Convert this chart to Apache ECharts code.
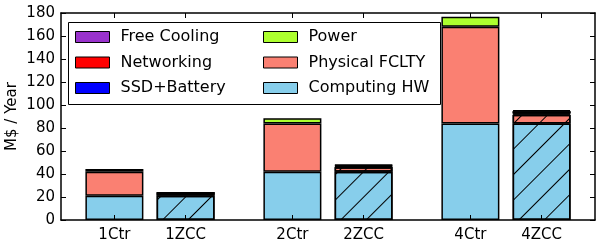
<!DOCTYPE html>
<html><head><meta charset="utf-8">
<script src="https://cdn.jsdelivr.net/npm/echarts@6/dist/echarts.min.js"></script>
<style>html,body{margin:0;padding:0;background:#fff}#c{width:600px;height:250px}</style>
</head><body><div id="c"></div>
<script>
var categories = ['1Ctr','1ZCC','2Ctr','2ZCC','4Ctr','4ZCC'];
// bar slots on a half-unit grid (empty slots between groups)
var slots = [1, 3, 6, 8, 11, 13];
var slotCount = 15;
var hatched = [false, true, false, true, false, true];
var computingHW = [21, 21, 42, 42, 84, 84];
var physicalFclty = [21, 1.9, 42, 3.8, 84, 7.6];
var power = [2.4, 0, 4.4, 0, 8.8, 0];
var ssdBattery = [0, 0.25, 0, 0.5, 0, 1];
var networking = [0, 0.5, 0, 1, 0, 2];
var freeCooling = [0, 0.25, 0, 0.5, 0, 1];

var FONT = 'DejaVu Sans';
var decal = {symbol:'rect', symbolSize:1, color:'#000', dashArrayX:[1,0], dashArrayY:[1,17], rotation:-Math.PI/4};

var axisCats = [];
for (var s = 0; s < slotCount; s++) {
  var k = slots.indexOf(s);
  axisCats.push(k >= 0 ? categories[k] : ' ' + s);
}
function isSlot(i){ return slots.indexOf(i) >= 0; }

function mk(name, vals, color){
  var data = [];
  for (var s = 0; s < slotCount; s++) data.push('-');
  vals.forEach(function(v,i){
    if (!v) return;
    var d = {value: v};
    if (hatched[i]) d.itemStyle = {decal: decal};
    data[slots[i]] = d;
  });
  return {
    name:name, type:'bar', stack:'total', barWidth:58,
    itemStyle:{color:color, borderColor:'#000', borderWidth:1.5},
    data: data
  };
}
var series = [
  mk('Computing HW', computingHW, '#87CEEB'),
  mk('Physical FCLTY', physicalFclty, '#FA8072'),
  mk('Power', power, '#ADFF2F'),
  mk('SSD+Battery', ssdBattery, '#0000FF'),
  mk('Networking', networking, '#FF0000'),
  mk('Free Cooling', freeCooling, '#9932CC')
];

var chart = echarts.init(document.getElementById('c'), null, {renderer:'canvas'});
var axLine = {show:true, onZero:false, lineStyle:{color:'#000', width:1.5}};
var legendCommon = {orient:'vertical', top:29, padding:0, itemGap:9.5, itemWidth:34, itemHeight:11, icon:'rect',
  itemStyle:{borderWidth:1, borderColor:'#000'},
  textStyle:{fontFamily:FONT, fontSize:16, color:'#000', padding:[0,0,0,6]}};
chart.setOption({
  animation:false,
  textStyle:{fontFamily:FONT},
  grid:{left:61, right:5, top:13, bottom:30, containLabel:false, outerBoundsMode:'none'},
  legend:[
    Object.assign({left:75, data:['Free Cooling','Networking','SSD+Battery']}, legendCommon),
    Object.assign({left:263, data:['Power','Physical FCLTY','Computing HW']}, legendCommon)
  ],
  graphic:[{type:'rect', shape:{x:68.5, y:22.5, width:372, height:82}, style:{fill:'rgba(0,0,0,0)', stroke:'#000', lineWidth:1}, z:-1}],
  xAxis:[
    {type:'category', data:axisCats, position:'bottom', z:10, boundaryGap:true,
     axisLine:axLine, splitLine:{show:false},
     axisTick:{show:true, inside:true, length:5, alignWithLabel:true, interval:function(i){return isSlot(i);}, lineStyle:{color:'#000', width:1}},
     axisLabel:{interval:function(i){return isSlot(i);}, margin:8, fontSize:15, color:'#000', fontFamily:FONT}},
    {type:'category', data:axisCats, position:'top', z:10, boundaryGap:true,
     axisLine:axLine, splitLine:{show:false},
     axisTick:{show:true, inside:true, length:5, alignWithLabel:true, interval:function(i){return isSlot(i);}, lineStyle:{color:'#000', width:1}},
     axisLabel:{show:false}}
  ],
  yAxis:[
    {type:'value', min:0, max:180, interval:20, position:'left', z:10,
     name:'M$ / Year', nameLocation:'middle', nameGap:41, nameMoveOverlap:false,
     nameTextStyle:{fontSize:15, color:'#000', fontFamily:FONT},
     axisLine:axLine, splitLine:{show:false},
     axisTick:{show:true, inside:true, length:5, lineStyle:{color:'#000', width:1}},
     axisLabel:{margin:6, fontSize:15, color:'#000', fontFamily:FONT}},
    {type:'value', min:0, max:180, interval:20, position:'right', z:10,
     axisLine:axLine, splitLine:{show:false},
     axisTick:{show:true, inside:true, length:5, lineStyle:{color:'#000', width:1}},
     axisLabel:{show:false}}
  ],
  series: series
});
</script></body></html>
